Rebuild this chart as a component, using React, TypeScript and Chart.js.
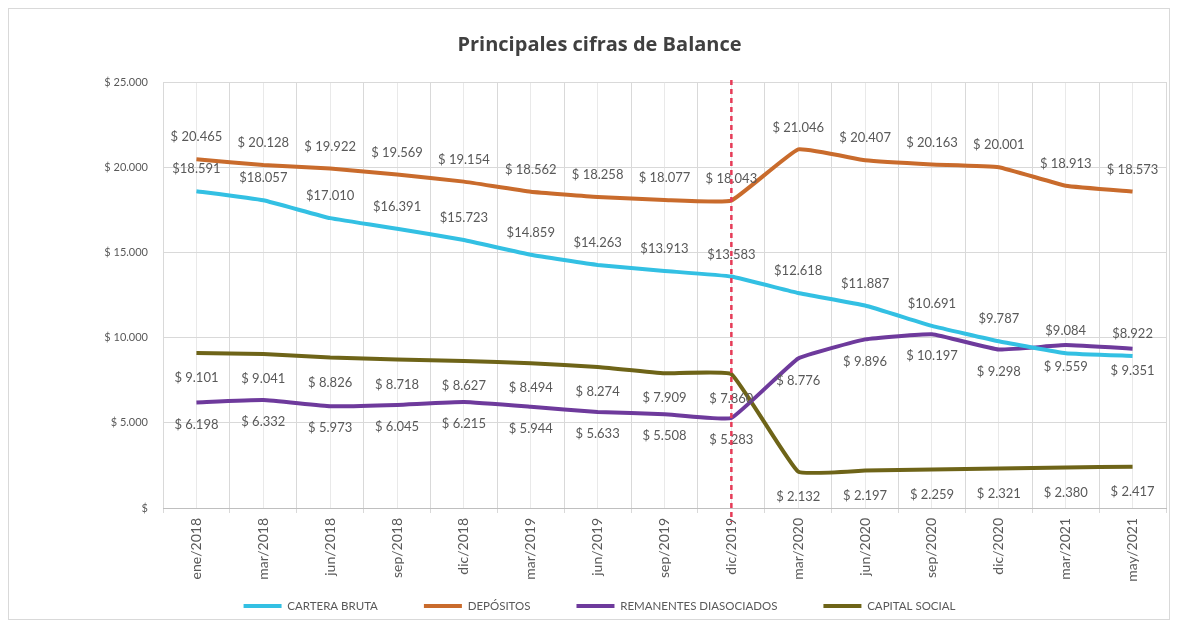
import React, { useEffect, useRef } from "react";
import { Chart, registerables } from "chart.js";

Chart.register(...registerables);

const categories = [
  "ene/2018", "mar/2018", "jun/2018", "sep/2018", "dic/2018",
  "mar/2019", "jun/2019", "sep/2019", "dic/2019",
  "mar/2020", "jun/2020", "sep/2020", "dic/2020",
  "mar/2021", "may/2021",
];
const carteraBruta = [18591, 18057, 17010, 16391, 15723, 14859, 14263, 13913, 13583, 12618, 11887, 10691, 9787, 9084, 8922];
const depositos = [20465, 20128, 19922, 19569, 19154, 18562, 18258, 18077, 18043, 21046, 20407, 20163, 20001, 18913, 18573];
const remanentes = [6198, 6332, 5973, 6045, 6215, 5944, 5633, 5508, 5283, 8776, 9896, 10197, 9298, 9559, 9351];
const capitalSocial = [9101, 9041, 8826, 8718, 8627, 8494, 8274, 7909, 7860, 2132, 2197, 2259, 2321, 2380, 2417];
const yTickValues = [0, 5000, 10000, 15000, 20000, 25000];
const seriesNames = ["CARTERA BRUTA", "DEPÓSITOS", "REMANENTES DIASOCIADOS", "CAPITAL SOCIAL"];
const dividerCategory = "dic/2019";
const titleText = "Principales cifras de Balance";

const seriesColors = ["#33C0E3", "#C96B2C", "#6E3A9C", "#6E6418"];
const labelPrefix = ["$", "$ ", "$ ", "$ "];
const labelOffset = [-22, -22, 22, 25];

const fmt = (v: number) => String(Math.round(v)).replace(/\B(?=(\d{3})+(?!\d))/g, ".");

const LEGEND_LIFT = 33.75;

const valueLabelPlugin = {
  id: "valueLabels",
  afterLayout(chart: any) {
    if (chart.legend) {
      chart.legend.top -= LEGEND_LIFT;
      chart.legend.bottom -= LEGEND_LIFT;
    }
  },
  afterDatasetsDraw(chart: any) {
    const ctx = chart.ctx;
    ctx.save();
    ctx.font = "13px Lato";
    ctx.fillStyle = "#595959";
    ctx.textAlign = "center";
    ctx.textBaseline = "middle";
    chart.data.datasets.forEach((ds: any, di: number) => {
      const meta = chart.getDatasetMeta(di);
      meta.data.forEach((pt: any, i: number) => {
        ctx.fillText(labelPrefix[di] + fmt(ds.data[i]), pt.x, pt.y + labelOffset[di]);
      });
    });
    const xScale = chart.scales.x;
    const x = xScale.getPixelForValue(categories.indexOf(dividerCategory));
    ctx.strokeStyle = "#E63B57";
    ctx.lineWidth = 2.5;
    ctx.setLineDash([5, 4]);
    ctx.beginPath();
    ctx.moveTo(x, chart.chartArea.top - 2);
    ctx.lineTo(x, chart.chartArea.bottom + 14);
    ctx.stroke();
    ctx.restore();
  },
};

export default function App() {
  const canvasRef = useRef<HTMLCanvasElement | null>(null);

  useEffect(() => {
    if (!canvasRef.current) return;
    const seriesData = [carteraBruta, depositos, remanentes, capitalSocial];
    const chart = new Chart(canvasRef.current, {
      type: "line",
      data: {
        labels: categories,
        datasets: seriesData.map((d, i) => ({
          label: seriesNames[i],
          data: d,
          borderColor: seriesColors[i],
          backgroundColor: seriesColors[i],
          borderWidth: 4,
          pointRadius: 0,
          pointHoverRadius: 0,
          pointStyle: "line",
          tension: 0.1,
          xAxisID: "x",
        })),
      },
      options: {
        animation: false,
        responsive: true,
        maintainAspectRatio: false,
        layout: { padding: { left: 24, right: 3, top: 0, bottom: -36.5 } },
        plugins: {
          title: {
            display: true,
            text: titleText,
            color: "#404040",
            font: { family: "Open Sans", size: 20, weight: "bold" },
            padding: { top: 24, bottom: 25 },
          },
          legend: {
            position: "bottom",
            labels: {
              usePointStyle: true,
              pointStyleWidth: 38,
              color: "#595959",
              font: { family: "Lato", size: 11.5 },
              padding: 46,
            },
          },
          tooltip: { enabled: false },
        },
        scales: {
          x: {
            type: "category",
            offset: true,
            grid: { offset: true, color: "#d9d9d9", tickLength: 5, drawTicks: true },
            border: { display: true, color: "#bfbfbf", width: 1 },
            ticks: {
              autoSkip: false,
              minRotation: 90,
              maxRotation: 90,
              padding: 5,
              color: "#595959",
              font: { family: "Lato", size: 14 },
            },
            afterFit: (s: any) => { s.height = 80; },
          },
          x2: {
            type: "category",
            position: "bottom",
            offset: true,
            grid: { offset: false, color: "#e9e9e9", drawTicks: false },
            border: { display: false },
            ticks: { display: false },
            afterFit: (s: any) => { s.height = 0; },
          },
          y: {
            min: 0,
            max: 25000,
            afterBuildTicks: (s: any) => { s.ticks = yTickValues.map((v) => ({ value: v })); },
            grid: { color: "#d9d9d9", drawTicks: false },
            border: { display: false },
            ticks: {
              padding: 15,
              color: "#595959",
              font: { family: "Lato", size: 11 },
              callback: (v: any) => (Number(v) === 0 ? "$" : "$ " + fmt(Number(v))),
            },
            afterFit: (s: any) => { s.width = 130; },
          },
        },
      },
      plugins: [valueLabelPlugin],
    } as any);
    return () => chart.destroy();
  }, []);

  return (
    <div style={{ width: 1160, height: 610, border: "1px solid #d9d9d9", position: "relative", background: "#fff" }}>
      <canvas ref={canvasRef} />
    </div>
  );
}
